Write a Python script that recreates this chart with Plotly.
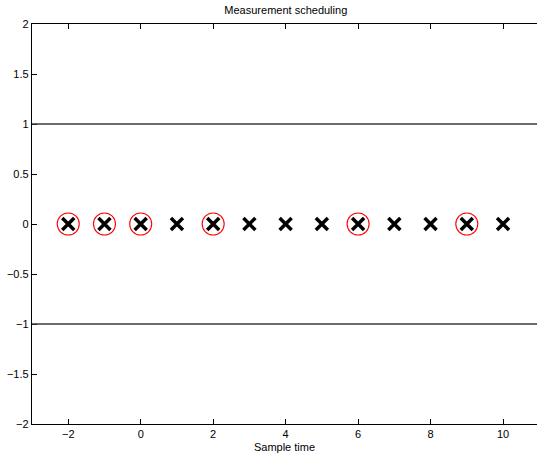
import plotly.graph_objects as go

sample_times = [-2, -1, 0, 1, 2, 3, 4, 5, 6, 7, 8, 9, 10]
sample_vals = [0] * len(sample_times)
measured_times = [-2, -1, 0, 2, 6, 9]
measured_vals = [0] * len(measured_times)
ref_levels = [1, -1]
x_ticks = [-2, 0, 2, 4, 6, 8, 10]
y_ticks = [-2, -1.5, -1, -0.5, 0, 0.5, 1, 1.5, 2]

W, H = 537, 458
L, R, T, B = 32, 0, 24, 34
px_per_unit = (503.3 - 68.5) / 12.0
x0 = -3.0
x1 = x0 + (W - L - R) / px_per_unit

fig = go.Figure()
fig.add_trace(go.Scatter(
    x=measured_times, y=measured_vals, mode="markers",
    marker=dict(symbol="circle-open", size=22, color="red", line=dict(width=1.1, color="red")),
    showlegend=False, hoverinfo="skip"))
fig.add_trace(go.Scatter(
    x=sample_times, y=sample_vals, mode="markers",
    marker=dict(symbol="x-thin-open", size=12, color="black", line=dict(width=3.5, color="black")),
    showlegend=False, hoverinfo="skip"))

for lv in ref_levels:
    fig.add_shape(type="line", xref="paper", x0=0, x1=1, yref="y", y0=lv, y1=lv,
                  line=dict(color="#3a3a3a", width=1.5), layer="above")

font = dict(family="Liberation Sans, Arial, Helvetica, sans-serif", size=11, color="black")
fig.update_layout(
    width=W, height=H,
    margin=dict(l=L, r=R, t=T, b=B, pad=0),
    paper_bgcolor="white", plot_bgcolor="white",
    font=font,
    title=dict(text="Measurement scheduling", font=dict(size=11, family=font["family"], color="black"),
               xref="paper", x=(285.8 - L) / (W - L - R), xanchor="center",
               yref="container", y=1 - 10.5 / H, yanchor="middle"),
    xaxis=dict(range=[x0, x1], tickvals=x_ticks, ticktext=[("\u2212" + str(-v)) if v < 0 else str(v) for v in x_ticks],
               ticks="inside", ticklen=5, tickwidth=1, tickcolor="black",
               showline=True, linecolor="black", linewidth=1.2, mirror="ticks",
               showgrid=False, zeroline=False,
               title=dict(text="Sample time", standoff=3, font=dict(size=11)),
               tickfont=dict(size=11)),
    yaxis=dict(range=[-2, 2], tickvals=y_ticks,
               ticktext=[("\u2212" + ("%g" % -v)) if v < 0 else ("%g" % v) for v in y_ticks],
               ticks="inside", ticklen=5, tickwidth=1, tickcolor="black",
               showline=True, linecolor="black", linewidth=1.2, mirror=False,
               showgrid=False, zeroline=False, tickfont=dict(size=11)),
)
fig.write_html("out.html", config={"displayModeBar": False, "staticPlot": True},
               post_script="document.body.style.margin='0px';document.body.style.overflow='hidden';")
